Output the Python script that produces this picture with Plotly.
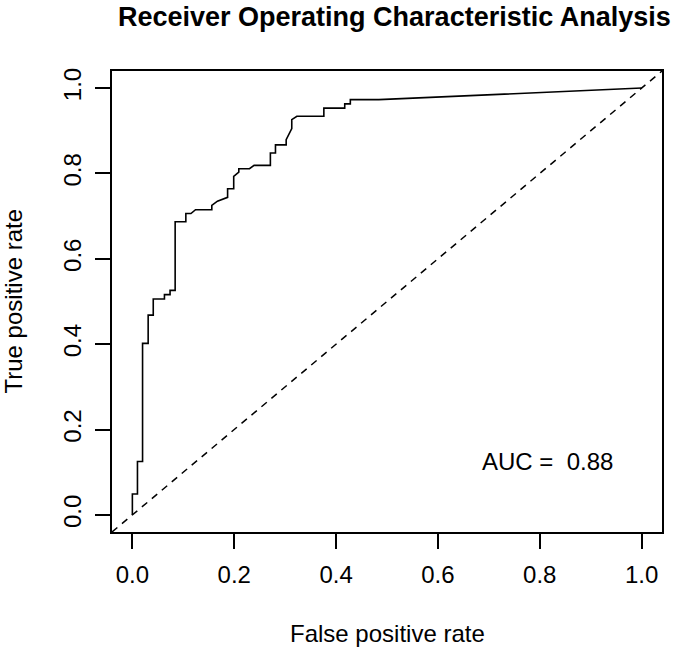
import plotly.graph_objects as go

# ROC curve
fpr = [0, 0, 0.010, 0.010, 0.020, 0.020, 0.031, 0.031, 0.041, 0.041, 0.063, 0.063,
       0.074, 0.074, 0.084, 0.084, 0.105, 0.105, 0.115, 0.124, 0.156, 0.156, 0.167,
       0.187, 0.187, 0.199, 0.199, 0.209, 0.209, 0.230, 0.239, 0.271, 0.271, 0.281,
       0.281, 0.302, 0.302, 0.313, 0.313, 0.323, 0.376, 0.376, 0.417, 0.417, 0.428,
       0.428, 0.484, 1.0]
tpr = [0, 0.049, 0.049, 0.125, 0.125, 0.402, 0.402, 0.468, 0.468, 0.506, 0.506, 0.516,
       0.516, 0.526, 0.526, 0.687, 0.687, 0.706, 0.706, 0.715, 0.715, 0.725, 0.735,
       0.744, 0.764, 0.764, 0.793, 0.803, 0.811, 0.811, 0.819, 0.819, 0.848, 0.848,
       0.867, 0.867, 0.879, 0.905, 0.926, 0.934, 0.934, 0.953, 0.953, 0.963, 0.963,
       0.973, 0.973, 1.0]

tick_vals = [0.0, 0.2, 0.4, 0.6, 0.8, 1.0]
tick_text = ["0.0", "0.2", "0.4", "0.6", "0.8", "1.0"]
auc_value = 0.88
x_range = [-0.04, 1.04]
y_range = [-0.04, 1.04]

FONT = "Liberation Sans, Arial, Helvetica, sans-serif"

fig = go.Figure()

# reference diagonal (abline 0,1) across the full plotting region
fig.add_trace(go.Scatter(
    x=[x_range[0], x_range[1]], y=[x_range[0], x_range[1]],
    mode="lines", line=dict(color="black", width=1.5, dash="7px,6px"),
    hoverinfo="skip", showlegend=False))

fig.add_trace(go.Scatter(
    x=fpr, y=tpr, mode="lines",
    line=dict(color="black", width=1.6, shape="linear"),
    showlegend=False))

axis_common = dict(
    showgrid=False, zeroline=False, showline=True, mirror=True,
    linecolor="black", linewidth=1.5,
    ticks="outside", ticklen=15, tickwidth=1.5, tickcolor="black",
    tickvals=tick_vals, ticktext=tick_text, ticklabelstandoff=5,
    tickfont=dict(family=FONT, size=24, color="black"),
)

fig.update_layout(
    width=685, height=650,
    margin=dict(l=112, r=23, t=71, b=118),
    paper_bgcolor="white", plot_bgcolor="white",
    xaxis=dict(range=x_range, **axis_common),
    yaxis=dict(range=y_range, tickangle=-90, **axis_common),
    font=dict(family=FONT, color="black"),
    annotations=[
        dict(text="<b>Receiver Operating Characteristic Analysis</b>",
             xref="paper", yref="paper", x=0.514, y=1.117,
             xanchor="center", yanchor="middle", showarrow=False,
             font=dict(family=FONT, size=27, color="black")),
        dict(text="False positive rate", xref="paper", yref="paper",
             x=0.5, y=-0.221, xanchor="center", yanchor="middle",
             showarrow=False, font=dict(family=FONT, size=24, color="black")),
        dict(text="True positive rate", xref="paper", yref="paper",
             x=-0.18, y=0.5, xanchor="center", yanchor="middle", textangle=-90,
             showarrow=False, font=dict(family=FONT, size=24, color="black")),
        dict(text="AUC =\u00a0 %.2f" % auc_value, xref="x", yref="y",
             x=0.815, y=0.126, xanchor="center", yanchor="middle",
             showarrow=False, font=dict(family=FONT, size=24, color="black")),
    ],
)

fig.write_html("out.html", config={"displayModeBar": False},
               post_script="document.body.style.margin='0';document.body.style.overflow='hidden';")
